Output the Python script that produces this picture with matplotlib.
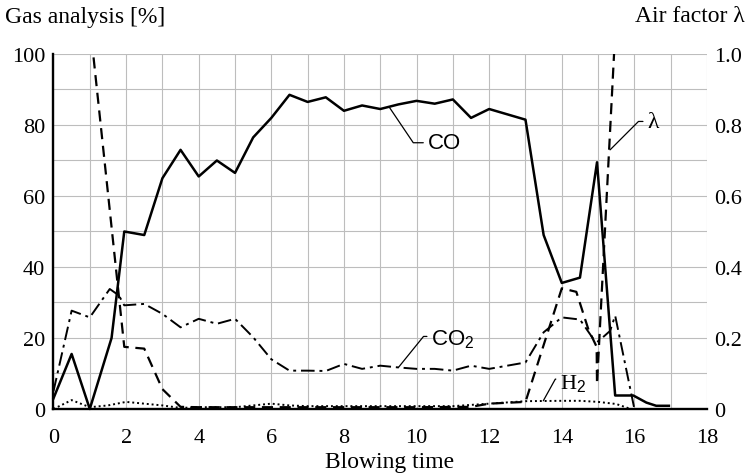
import numpy as np
import matplotlib.pyplot as plt

plt.rcParams['font.family'] = ['Liberation Serif', 'DejaVu Serif']
plt.rcParams['mathtext.fontset'] = 'custom'
plt.rcParams['mathtext.rm'] = 'Liberation Sans'
plt.rcParams['mathtext.it'] = 'Liberation Sans'

# blowing time [min] and gas analysis [%]
co_t = [0, 0.5, 1.0, 1.6, 1.95, 2.5, 3.0, 3.5, 4.0, 4.5, 5.0, 5.5, 6.0, 6.5, 7.0, 7.5,
        8.0, 8.5, 9.0, 9.5, 10.0, 10.5, 11.0, 11.5, 12.0, 12.5, 13.0, 13.5, 14.0, 14.5,
        14.97, 15.47, 15.97, 16.33, 16.6, 16.95]
co = [3, 15.5, 0, 20, 50, 49, 65, 73, 65.5, 70, 66.5, 76.5, 82, 88.5, 86.5, 87.8,
      84, 85.5, 84.5, 85.8, 86.8, 86, 87.2, 82, 84.5, 83, 81.5, 49, 35.5, 37,
      69.5, 3.8, 3.8, 1.8, 0.9, 0.9]

co2_t = [0, 0.5, 1.0, 1.55, 1.8, 1.95, 2.5, 3.0, 3.5, 4.0, 4.5, 5.0, 5.5, 6.0, 6.5, 7.0,
         7.5, 8.0, 8.5, 9.0, 9.5, 10.0, 10.5, 11.0, 11.5, 12.0, 12.5, 13.0, 13.5, 14.0,
         14.5, 14.87, 15.0, 15.33, 15.47, 16.0]
co2 = [5, 27.7, 25.8, 33.8, 32, 29.2, 29.6, 26.8, 23, 25.4, 24, 25.4, 20.2, 14, 10.8, 10.8,
       10.7, 12.7, 11.3, 12.2, 11.7, 11.3, 11.3, 10.8, 12.2, 11.3, 12.2, 13.1, 21.6, 25.8,
       25.2, 19.7, 19, 22, 26.3, 0]

h2_t = [0, 0.5, 1.0, 1.5, 2.0, 2.5, 3.0, 3.5, 4.0, 5.0, 6.0, 6.5, 7.0, 9.0, 11.0, 12.0,
        13.0, 14.0, 14.5, 15.0, 15.5, 15.9]
h2 = [0, 2.5, 0.5, 1.0, 2.0, 1.5, 1.0, 0.3, 0.5, 0.5, 1.5, 1.0, 0.8, 0.8, 0.8, 1.5,
      2.2, 2.3, 2.3, 2.0, 1.4, 0]

# air factor lambda (right axis)
lam_t = [1.0, 1.95, 2.5, 3.0, 3.5, 4.0, 6.0, 8.0, 10.0, 11.5, 12.0, 13.0, 14.0, 14.4,
         14.73, 14.96, 14.97, 15.5]
lam = [1.09, 0.175, 0.17, 0.056, 0.006, 0.005, 0.005, 0.005, 0.005, 0.006, 0.015, 0.02,
       0.34, 0.33, 0.225, 0.175, 0.07, 1.12]

x_ticks = np.arange(0, 19, 2)
y_ticks = np.arange(0, 101, 20)
lam_ticks = [0, 0.2, 0.4, 0.6, 0.8, 1.0]
lam_labels = ['0', '0.2', '0.4', '0.6', '0.8', '1.0']

fig = plt.figure(figsize=(7.5, 4.77), dpi=100)
ax = fig.add_axes([0.0713, 0.1405, 0.8714, 0.7442])
ax.set_xlim(0, 18)
ax.set_ylim(0, 100)
ax.set_xticks(x_ticks)
ax.set_xticks(np.arange(1, 18, 2), minor=True)
ax.set_yticks(y_ticks)
ax.set_yticks(np.arange(10, 100, 20), minor=True)
ax.grid(True, which='both', color='#bdbdbd', lw=0.8)
ax.set_axisbelow(True)
ax.tick_params(which='both', length=0, labelsize=16)
ax.tick_params(axis='x', pad=14)
ax.tick_params(axis='y', pad=6)
for s in ['top', 'right']:
    ax.spines[s].set_visible(False)
for s in ['left', 'bottom']:
    ax.spines[s].set_linewidth(1.7)

ax.plot(co_t, co, color='black', lw=1.8, clip_on=False)
ax.plot(co2_t, co2, color='black', lw=1.4, ls=(0, (7, 2.5, 1.5, 2.5)))
ax.plot(h2_t, h2, color='black', lw=1.4, ls=(0, (1, 1.5)))

ax2 = ax.twinx()
ax2.set_ylim(0, 1)
ax2.set_yticks(lam_ticks)
ax2.set_yticklabels(lam_labels)
ax2.tick_params(length=0, labelsize=16, pad=5)
for s in ax2.spines.values():
    s.set_visible(False)
ax2.plot(lam_t, lam, color='black', lw=1.6, ls=(0, (5, 3)))

# series labels with leader lines
lead = dict(arrowstyle='-', lw=0.9, color='black', shrinkA=1, shrinkB=0)
ax.annotate('CO', xy=(9.25, 85), xytext=(10.3, 75), ha='left', va='center',
            fontsize=16, family='Liberation Sans',
            arrowprops=dict(lead, relpos=(0, 0.5),
                            connectionstyle='angle,angleA=0,angleB=-56,rad=0'))
ax.annotate(r'CO$_2$', xy=(9.5, 11.7), xytext=(10.4, 19.8), ha='left', va='center',
            fontsize=16, family='Liberation Sans',
            arrowprops=dict(lead, relpos=(0, 0.6),
                            connectionstyle='angle,angleA=0,angleB=51,rad=0'))
ax.annotate(r'H$_2$', xy=(13.49, 2.3), xytext=(13.95, 7.2), ha='left', va='center',
            fontsize=16, family='Liberation Serif',
            arrowprops=dict(lead, relpos=(0, 0.7),
                            connectionstyle='angle,angleA=0,angleB=61,rad=0'))
ax.annotate('λ', xy=(15.33, 73), xytext=(16.35, 81), ha='left', va='center',
            fontsize=17,
            arrowprops=dict(lead, relpos=(0, 0.5),
                            connectionstyle='angle,angleA=0,angleB=45,rad=0'))

fig.text(0.007, 1 - 17 / 477, 'Gas analysis [%]', ha='left', va='center', fontsize=17)
fig.text(0.993, 1 - 17 / 477, 'Air factor λ', ha='right', va='center', fontsize=17)
fig.text(390 / 750, 1 - 463 / 477, 'Blowing time', ha='center', va='center', fontsize=17)

fig.savefig('out.png', dpi=100)
